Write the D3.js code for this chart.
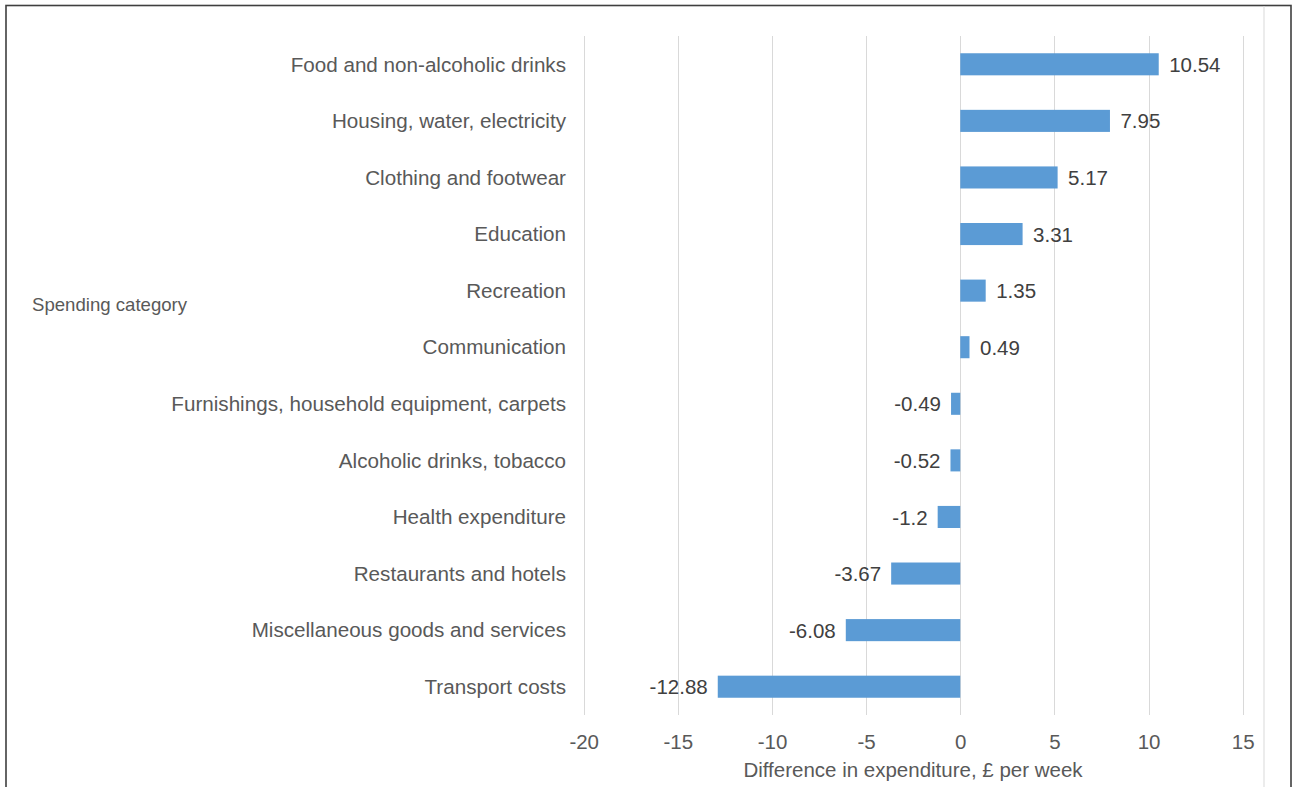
<!DOCTYPE html>
<html>
<head>
<meta charset="utf-8">
<script src="https://cdn.jsdelivr.net/npm/d3@7"></script>
<style>
  html, body { margin: 0; padding: 0; background: #fff; }
  svg { display: block; font-family: "Liberation Sans", Arial, sans-serif; }
</style>
</head>
<body>
<svg id="chart" width="1292" height="787"></svg>
<script>
const categories = [
  "Food and non-alcoholic drinks",
  "Housing, water, electricity",
  "Clothing and footwear",
  "Education",
  "Recreation",
  "Communication",
  "Furnishings, household equipment, carpets",
  "Alcoholic drinks, tobacco",
  "Health expenditure",
  "Restaurants and hotels",
  "Miscellaneous goods and services",
  "Transport costs"
];
const values = [10.54, 7.95, 5.17, 3.31, 1.35, 0.49, -0.49, -0.52, -1.2, -3.67, -6.08, -12.88];
const valueLabels = ["10.54", "7.95", "5.17", "3.31", "1.35", "0.49", "-0.49", "-0.52", "-1.2", "-3.67", "-6.08", "-12.88"];
const xTicks = [-20, -15, -10, -5, 0, 5, 10, 15];
const xTickLabels = ["-20", "-15", "-10", "-5", "0", "5", "10", "15"];
const xAxisTitle = "Difference in expenditure, £ per week";
const yAxisTitle = "Spending category";

const svg = d3.select("#chart");
const textColor = "#595959";
const FONT = "Liberation Sans, Arial, sans-serif";

// frame
svg.append("rect").attr("x", 6).attr("y", 5.5).attr("width", 1285).attr("height", 800)
  .attr("fill", "none").attr("stroke", "#3f3f3f").attr("stroke-width", 1.6);
svg.append("line").attr("x1", 1264).attr("x2", 1264).attr("y1", 6).attr("y2", 787)
  .attr("stroke", "#d9d9d9").attr("stroke-width", 1);

const x = d3.scaleLinear().domain([-20, 15]).range([583.7, 1242.7]);
const y = d3.scaleBand().domain(categories).range([36, 715]).paddingInner(0.61).paddingOuter(0.305);

// gridlines
svg.append("g").selectAll("line").data(xTicks).join("line")
  .attr("x1", d => Math.round(x(d)) + 0.5).attr("x2", d => Math.round(x(d)) + 0.5)
  .attr("y1", 36).attr("y2", 715)
  .attr("stroke", "#d9d9d9").attr("stroke-width", 1);

// x axis tick labels
const xAxis = d3.axisBottom(x).tickValues(xTicks).tickSize(0).tickPadding(0)
  .tickFormat((d, i) => xTickLabels[i]);
const gx = svg.append("g").attr("transform", "translate(0,735)").call(xAxis);
gx.select(".domain").remove();
gx.selectAll("text").attr("fill", textColor).attr("font-size", 20.5)
  .attr("font-family", FONT)
  .attr("dy", "0.35em").attr("y", 7);

// bars
svg.append("g").selectAll("rect").data(values).join("rect")
  .attr("x", d => x(Math.min(0, d)))
  .attr("width", d => Math.abs(x(d) - x(0)))
  .attr("y", (d, i) => y(categories[i]))
  .attr("height", y.bandwidth())
  .attr("fill", "#5b9bd5");

// value labels
svg.append("g").selectAll("text").data(values).join("text")
  .attr("x", d => d >= 0 ? x(d) + 10.5 : x(d) - 10)
  .attr("y", (d, i) => y(categories[i]) + y.bandwidth() / 2)
  .attr("dy", "0.37em")
  .attr("text-anchor", d => d >= 0 ? "start" : "end")
  .attr("font-size", 20.5).attr("fill", "#404040").attr("font-family", FONT)
  .text((d, i) => valueLabels[i]);

// category labels
const yAxis = d3.axisLeft(y).tickSize(0).tickPadding(0);
const gy = svg.append("g").attr("transform", "translate(566,0)").call(yAxis);
gy.select(".domain").remove();
gy.selectAll("text").attr("fill", textColor).attr("font-size", 20.65)
  .attr("font-family", FONT).attr("dy", "0.35em");

// axis titles
svg.append("text").attr("x", 913).attr("y", 770).attr("dy", "0.35em")
  .attr("text-anchor", "middle").attr("font-size", 20.5).attr("fill", textColor)
  .attr("font-family", FONT)
  .text(xAxisTitle);
svg.append("text").attr("x", 32).attr("y", 304).attr("dy", "0.35em")
  .attr("text-anchor", "start").attr("font-size", 18.6).attr("fill", textColor)
  .attr("font-family", FONT)
  .text(yAxisTitle);
</script>
</body>
</html>
